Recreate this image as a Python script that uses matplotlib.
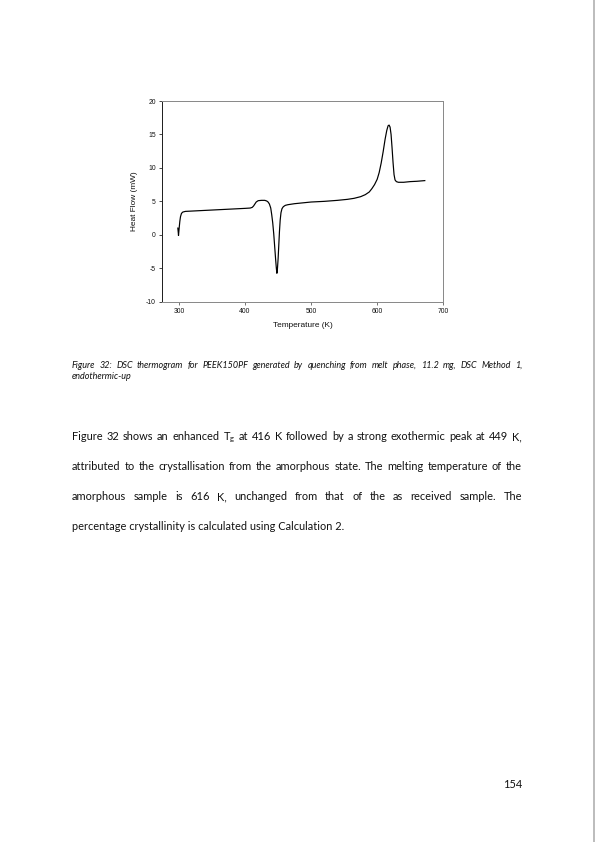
import matplotlib
matplotlib.use("Agg")
import matplotlib.pyplot as plt
from matplotlib.lines import Line2D

plt.rcParams["axes.unicode_minus"] = False

# ---- data ----
temperature_K = [298.5, 299.2, 299.5, 300.5, 301.5, 302.5, 304.0, 306.0, 310.0, 320, 340, 360,
                 380, 400, 408, 411, 413, 415, 417, 420, 425, 430, 433, 435, 437, 439,
                 440.5, 442, 443.5, 445, 446.5, 447.5, 448.3, 449.2, 450.2, 451.2, 452.2,
                 453.3, 454.5, 456, 458, 461, 465, 475, 490, 500, 520, 540, 555, 565, 575,
                 582, 588, 592, 596, 600, 603, 606, 609, 612, 614.5, 616.5, 618, 619.5, 621,
                 622.5, 624, 625.5, 627, 629, 632, 640, 650, 660, 672]
heat_flow_mW = [1.0, 0.3, -0.1, 1.0, 2.0, 2.7, 3.2, 3.4, 3.5, 3.55, 3.65, 3.75,
                3.85, 3.95, 4.0, 4.1, 4.3, 4.6, 4.9, 5.1, 5.15, 5.15, 5.05, 4.9, 4.6, 4.0,
                3.0, 1.8, 0.2, -1.8, -3.8, -5.0, -5.75, -5.0, -3.5, -1.5, 0.5,
                2.2, 3.3, 3.9, 4.2, 4.4, 4.5, 4.65, 4.8, 4.9, 5.0, 5.15, 5.3, 5.45, 5.7,
                6.0, 6.4, 6.9, 7.5, 8.3, 9.3, 10.7, 12.4, 14.3, 15.6, 16.3, 16.4, 16.1, 15.0,
                13.0, 10.8, 9.0, 8.2, 7.95, 7.85, 7.85, 7.95, 8.0, 8.1]
x_ticks = [300, 400, 500, 600, 700]
y_ticks = [-10, -5, 0, 5, 10, 15, 20]
x_label = "Temperature (K)"
y_label = "Heat Flow (mW)"

caption_line1 = "Figure 32: DSC thermogram for PEEK150PF generated by quenching from melt phase, 11.2 mg, DSC Method 1,"
caption_line2 = "endothermic-up"
body_lines = [
    r"Figure 32 shows an enhanced $\mathregular{T_g}$ at 416 K followed by a strong exothermic peak at 449 K,",
    "attributed to the crystallisation from the amorphous state. The melting temperature of the",
    "amorphous sample is 616 K, unchanged from that of the as received sample. The",
    "percentage crystallinity is calculated using Calculation 2.",
]
page_number = "154"

W, H = 595, 842
fig = plt.figure(figsize=(W / 72, H / 72), dpi=72)
fig.patch.set_facecolor("white")

# ---- chart ----
ax = fig.add_axes([162.3 / W, 1 - 301.7 / H, 281.0 / W, 200.7 / H])
ax.plot(temperature_K, heat_flow_mW, color="black", lw=1.2, solid_joinstyle="round")
ax.set_xlim(275, 700)
ax.set_ylim(-10, 20)
ax.set_xticks(x_ticks)
ax.set_yticks(y_ticks)
tick_font = dict(family="Liberation Sans", size=6.7)
ax.set_xticklabels([str(v) for v in x_ticks], fontdict=tick_font)
ax.set_yticklabels([str(v) for v in y_ticks], fontdict=tick_font)
for s in ["top", "right", "bottom"]:
    ax.spines[s].set_color("#8a8a8a")
    ax.spines[s].set_linewidth(1.0)
ax.spines["left"].set_color("#222222")
ax.spines["left"].set_linewidth(1.0)
ax.tick_params(axis="y", direction="out", length=3, width=0.8, color="#222222", pad=3.5, labelcolor="#111111")
ax.tick_params(axis="x", direction="out", length=2.5, width=0.8, color="#555555", pad=4, labelcolor="#111111")
ax.set_xlabel(x_label, family="Liberation Sans", size=8.2, color="#111111", labelpad=7)
ax.set_ylabel(y_label, family="Liberation Sans", size=8.2, color="#111111", labelpad=8)

# ---- page text ----
fig.canvas.draw()
renderer = fig.canvas.get_renderer()
X0, X1 = 72.0, 522.0


def put_line(line, y, justify, **kw):
    if not justify:
        fig.text(X0 / W, 1 - y / H, line, va="baseline", ha="left", **kw)
        return
    words = line.replace(r"$\mathregular{T_g}$", "\0").split(" ")
    words = [w.replace("\0", r"$\mathregular{T_g}$") for w in words]
    texts = [fig.text(0, 1 - y / H, w, va="baseline", ha="left", **kw) for w in words]
    widths = [t.get_window_extent(renderer).width for t in texts]
    gap = (X1 - X0 - sum(widths)) / (len(words) - 1)
    x = X0
    for t, w in zip(texts, widths):
        t.set_x(x / W)
        x += w + gap


cap_kw = dict(family="Lato", style="italic", size=9.0, color="#111111")
put_line(caption_line1, 368.0, True, **cap_kw)
put_line(caption_line2, 379.0, False, **cap_kw)

body_kw = dict(family="Lato", size=11.0, color="#111111")
body_y = [440.5, 470.3, 500.0, 529.5]
for i, (line, y) in enumerate(zip(body_lines, body_y)):
    put_line(line, y, i < 3, **body_kw)

fig.text(522.5 / W, 1 - 788.5 / H, page_number, ha="right", va="baseline",
         family="Lato", size=11.0, color="#111111")

# right page edge line
fig.add_artist(Line2D([594.0 / W, 594.0 / W], [0, 1], transform=fig.transFigure,
                      color="#a8a8a8", lw=1.5))

fig.savefig("out.png", dpi=72, facecolor="white")
